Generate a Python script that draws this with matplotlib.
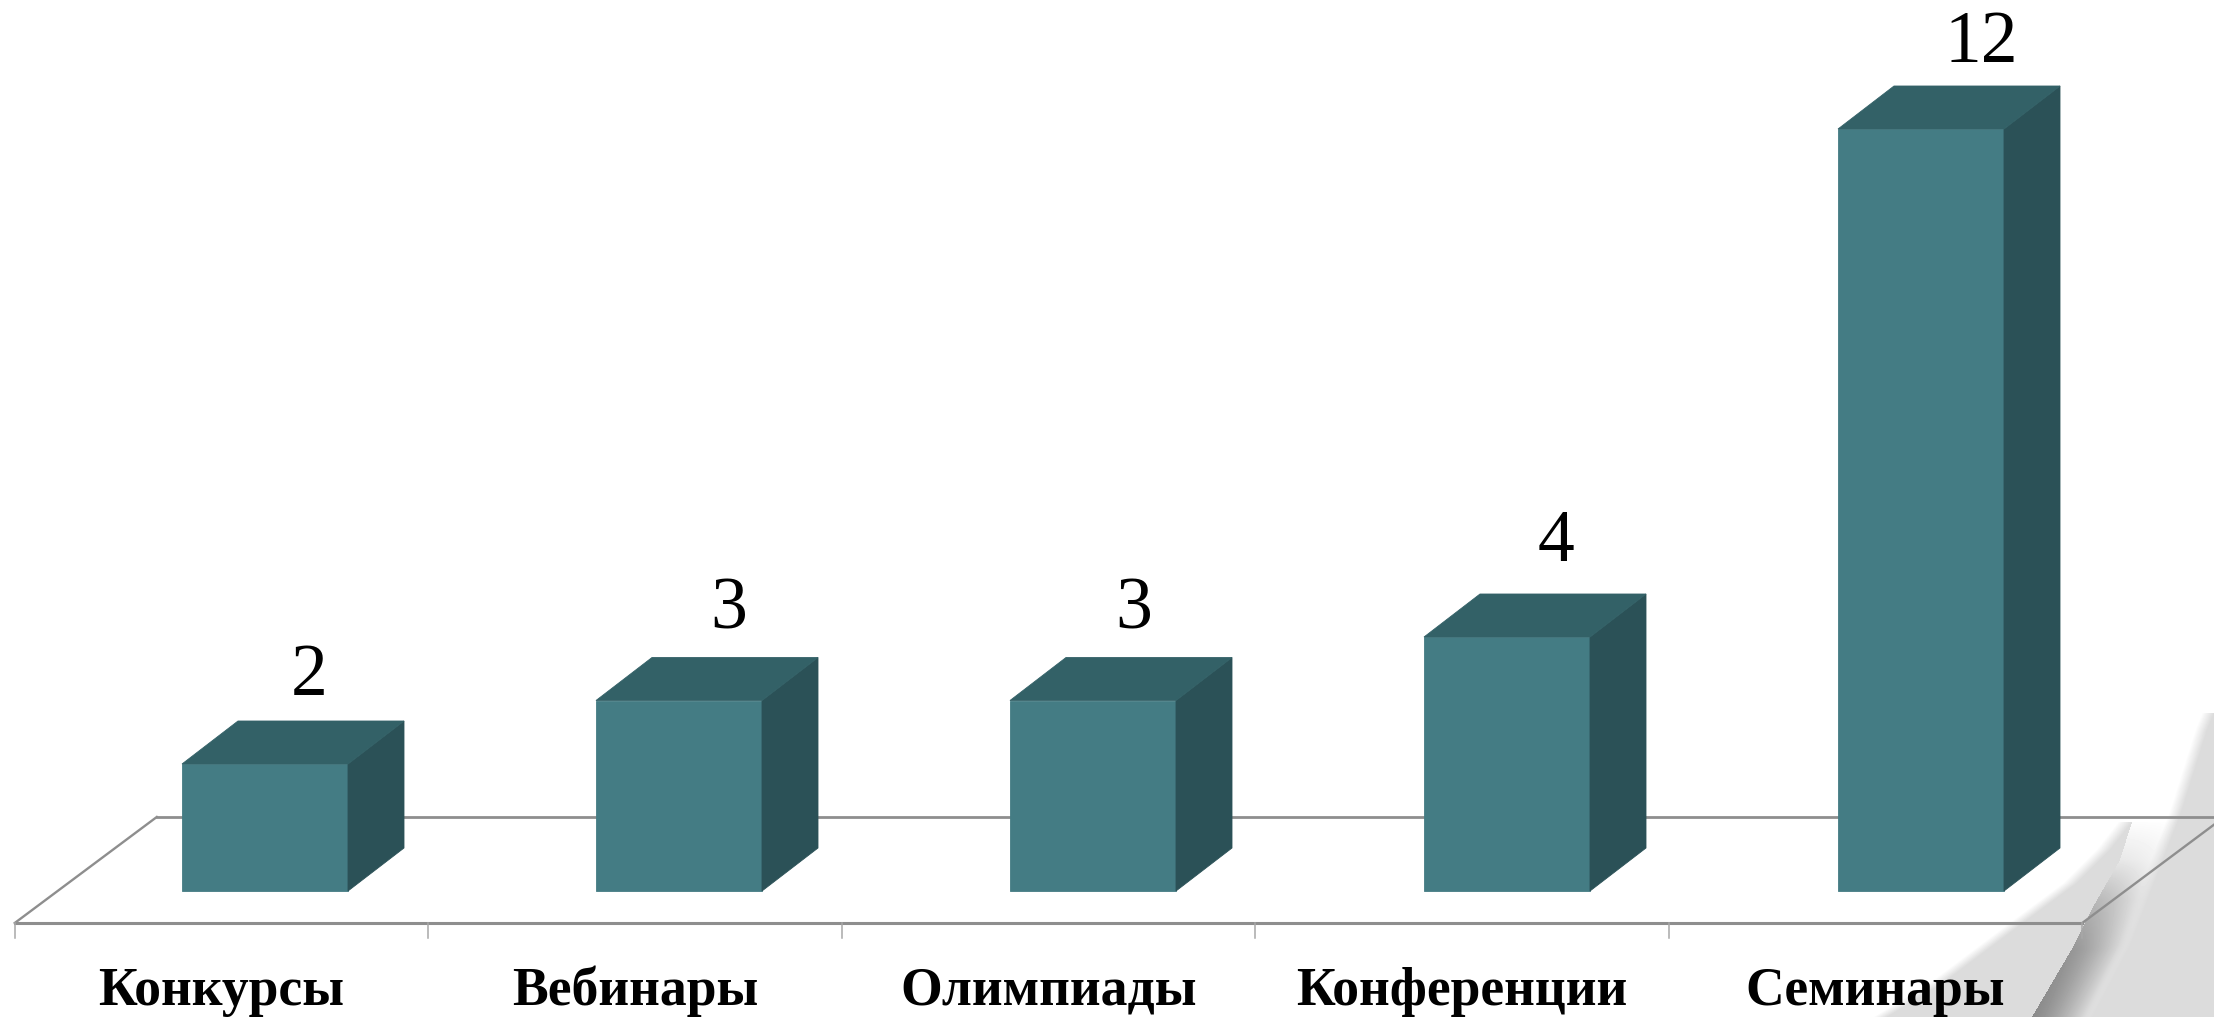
import numpy as np
import matplotlib
matplotlib.use('Agg')
import matplotlib.pyplot as plt

plt.rcParams['font.family'] = ['Liberation Serif', 'DejaVu Serif']

# Chart data
categories = ['Конкурсы', 'Вебинары', 'Олимпиады', 'Конференции', 'Семинары']
values = [2, 3, 3, 4, 12]

# Scale of the picture: pixels per category and per unit of value
W, H = 2214, 1017
PX_CAT = 413.5
PX_VAL = 63.5
FLOOR_Y = 923

# Colours
FRONT = '#447c84'
TOP = '#336167'
SIDE = '#2b5157'
FLOOR = '#8e8e8e'
TICK = '#a8a8a8'
PAPER = 220.0

fig = plt.figure(figsize=(W / 100, H / 100), dpi=100, facecolor='white')

# Page curl in the lower right corner, painted as a grey image
bg = fig.add_axes([0, 0, 1, 1])
yy, xx = np.mgrid[0:H, 0:W] + 0.5
page = np.full((H, W), 255.0)

flap_edge = np.interp(yy, [822, 850, 883, 923, 950, 983, 1017],
                      [2132, 2110, 2077, 2023, 1987, 1943, 1887])
fold = np.interp(yy, [822, 860, 907, 947, 1017], [2132, 2120, 2093, 2073, 2032])
right_edge = np.interp(yy, [713, 730, 813, 867, 945, 1017],
                       [2214, 2207, 2181, 2160, 2130, 2092])

# flap, with a soft upper edge
flap = np.clip((xx - flap_edge + 14) / 14, 0, 1)
flap[yy < 822] = 0
page = 255 - (255 - PAPER) * flap

# shadow behind the fold
t = np.clip((xx - fold) / (right_edge - fold), 0, 1)
dark = np.interp(yy, [822, 860, 900, 950, 1017], [253, 232, 185, 150, 138])
light = np.interp(yy, [822, 900, 1017], [254, 238, 232])
shadow = dark + (light - dark) * t ** 1.4
mask = (xx >= fold) & (yy >= 822)
page[mask] = shadow[mask]

# sheet on the right, also with a soft edge
sheet = np.clip((xx - right_edge + 12) / 12, 0, 1)
sheet[yy < 713] = 0
page = page + (PAPER - page) * sheet

bg.imshow(page, cmap='gray', vmin=0, vmax=255, extent=(0, W, H, 0),
          aspect='auto', interpolation='bilinear')
bg.axis('off')

# Chart axes: x in categories, y in values, zero on the front edge of the floor
ax = fig.add_axes([0, 0, 1, 1], facecolor='none')
ax.set_xlim(-221.5 / PX_CAT, (W - 221.5) / PX_CAT)
ax.set_ylim((FLOOR_Y - H) / PX_VAL, FLOOR_Y / PX_VAL)
ax.axis('off')

# Oblique offsets, in data units
floor_dx = 142 / PX_CAT
floor_dy = 106 / PX_VAL
base_dx = 43.5 / PX_CAT
base_dy = 32 / PX_VAL
depth_dx = 56 / PX_CAT
depth_dy = 43 / PX_VAL
bar_w = 166 / PX_CAT
bar_step = 414.0 / PX_CAT

n = len(categories)
left, right = -0.5, n - 0.5

# Floor
ax.plot([left + floor_dx, right + floor_dx], [floor_dy, floor_dy], color=FLOOR, lw=2.0, zorder=2)
ax.plot([left, left + floor_dx], [0, floor_dy], color=FLOOR, lw=1.7, zorder=2)
ax.plot([right, right + floor_dx], [0, floor_dy], color=FLOOR, lw=1.7, zorder=2)
ax.plot([left, right], [0, 0], color=FLOOR, lw=2.2, zorder=2)
for i in range(n + 1):
    ax.plot([left + i, left + i], [0, -15 / PX_VAL], color=TICK, lw=1.1, zorder=2)

# Bars
label_dx = [44, 50, 41, 49, 60]
label_dy = [26, 29, 29, 33, 24]
for i, (name, v) in enumerate(zip(categories, values)):
    x0 = i * bar_step - bar_w / 2 + base_dx
    x1 = x0 + bar_w
    y0 = base_dy
    y1 = y0 + v
    ax.fill([x0, x1, x1, x0], [y0, y0, y1, y1], color=FRONT, lw=0.6, zorder=3)
    ax.fill([x1, x1 + depth_dx, x1 + depth_dx, x1],
            [y0, y0 + depth_dy, y1 + depth_dy, y1], color=SIDE, lw=0.6, zorder=3)
    ax.fill([x0, x1, x1 + depth_dx, x0 + depth_dx],
            [y1, y1, y1 + depth_dy, y1 + depth_dy], color=TOP, lw=0.6, zorder=3)
    ax.text(i * bar_step + base_dx + label_dx[i] / PX_CAT, y1 + depth_dy + label_dy[i] / PX_VAL, str(v),
            ha='center', va='baseline', fontsize=53, color='black', zorder=4)
    ax.text(i, -82 / PX_VAL, name, ha='center', va='baseline', fontsize=38.6,
            fontweight='bold', color='black', zorder=4)

fig.savefig('out.png', dpi=100, facecolor='white')
